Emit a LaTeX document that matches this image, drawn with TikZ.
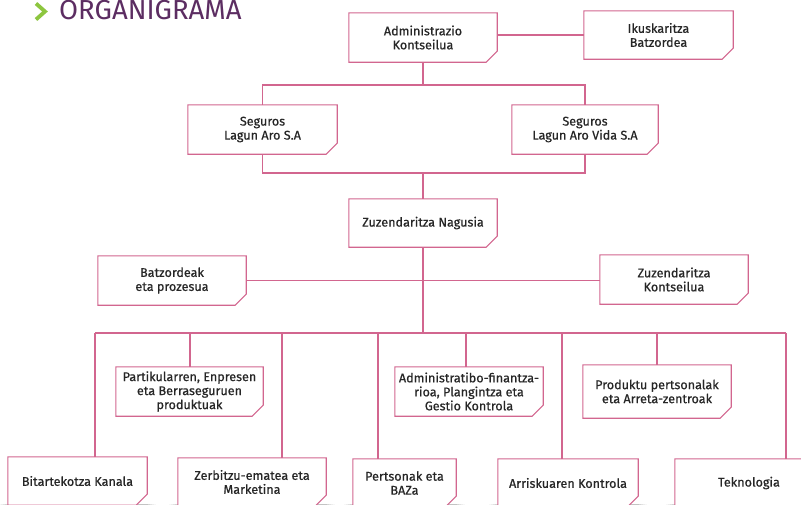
\documentclass[tikz,border=0pt]{standalone}
\usepackage{fontspec}
\setmainfont{Fira Sans}
\usetikzlibrary{backgrounds}
\definecolor{pinkline}{HTML}{D2668F}
\definecolor{txt}{HTML}{262626}
\definecolor{titlepurple}{HTML}{5C2D62}
\definecolor{chev}{HTML}{8DC63F}
\tikzset{
  orgbox/.style={inner sep=0pt, align=center, text=txt, font=\fontsize{12.6}{14}\selectfont\addfontfeature{FakeBold=0.6}},
  conn/.style={draw=pinkline, line width=1.1pt},
}
% box: name, x1, y1, x2, y2, text
\newcommand\orgnode[6]{%
  \node[orgbox, minimum width={(#4-#2)*1pt}, minimum height={(#5-#3)*1pt}] (#1) at ({(#2+#4)/2},{(#3+#5)/2}) {#6};
}
\newcommand\orgframe[1]{%
  \begin{pgfonlayer}{background}
    \foreach \e/\o in {9/0.03,7/0.04,5/0.05,3/0.06,1/0.08}{
      \fill[black,opacity=\o] ([xshift={-\e pt},yshift={\e pt-6pt}]#1.north west) rectangle ([xshift={\e pt},yshift={-\e pt-6pt}]#1.south east);
    }
    \fill[white] (#1.north west) -- (#1.north east) -- ([yshift=11pt]#1.south east) -- ([xshift=-11pt]#1.south east) -- (#1.south west) -- cycle;
  \end{pgfonlayer}
  \draw[pinkline, line width=1.1pt, line join=miter] (#1.north west) -- (#1.north east) -- ([yshift=11pt]#1.south east) -- ([xshift=-11pt]#1.south east) -- (#1.south west) -- cycle;
}
\begin{document}
\begin{tikzpicture}[x=1pt,y=-1pt]
\clip (0,0) rectangle (801,504);
\fill[white] (0,0) rectangle (801,504);
% title
\draw[chev, line width=3.8pt, line cap=butt, line join=miter] (36,3.5) -- (45,11.5) -- (36,19.5);
\node[anchor=base west, inner sep=0pt, text=titlepurple, font=\fontsize{27.5}{27.5}\selectfont] (title) at (59,19) {ORGANIGRAMA};

\orgnode{adm}{349}{13}{497}{62}{Administrazio\\Kontseilua}
\orgnode{iku}{584}{11}{733}{59}{Ikuskaritza\\Batzordea}
\orgnode{sla}{188}{105}{337}{154}{Seguros\\Lagun Aro S.A}
\orgnode{slv}{512}{105}{658}{154}{Seguros\\Lagun Aro Vida S.A}
\orgnode{zn}{349}{199}{497}{247}{Zuzendaritza Nagusia}
\orgnode{bat}{98}{256}{246}{305}{Batzordeak\\eta prozesua}
\orgnode{zk}{600}{255}{748}{304}{Zuzendaritza\\Kontseilua}
\orgnode{par}{116}{367}{263}{416}{Partikularren, Enpresen\\eta Berraseguruen\\produktuak}
\orgnode{adf}{395}{367}{543}{416}{Administratibo-finantza-\\rioa, Plangintza eta\\Gestio Kontrola}
\orgnode{pro}{583}{365}{731}{418}{Produktu pertsonalak\\eta Arreta-zentroak}
\orgnode{bit}{8}{457}{147}{505}{Bitartekotza Kanala}
\orgnode{zer}{178}{458}{326}{506}{Zerbitzu-ematea eta\\Marketina}
\orgnode{per}{353}{459}{456}{507}{Pertsonak eta\\BAZa}
\orgnode{arr}{498}{459}{638}{507}{Arriskuaren Kontrola}
\orgnode{tek}{675}{459}{823}{507}{Teknologia}

\foreach \n in {adm,iku,sla,slv,zn,bat,zk,par,adf,pro,bit,zer,per,arr,tek}{\orgframe{\n}}

% connectors
\coordinate (j1) at (423,85);
\coordinate (j2) at (423,173);
\coordinate (j3) at (423,333);
\draw[conn] (adm.east |- iku.west) -- (iku.west);
\draw[conn] (adm.south) -- (j1);
\draw[conn] (sla.north) |- (j1) -| (slv.north);
\draw[conn] (sla.south) |- (j2) -| (slv.south);
\draw[conn] (j2) -- (zn.north);
\draw[conn] (zn.south) -- (j3);
\draw[conn] (bat.east) -- (bat.east -| zk.west);
\coordinate (d1) at (95,333);
\coordinate (d2) at (190,333);
\coordinate (d3) at (282,333);
\coordinate (d4) at (378,333);
\coordinate (d5) at (466,333);
\coordinate (d6) at (562,333);
\coordinate (d7) at (657,333);
\coordinate (d8) at (786,333);
\draw[conn] (d1) -- (d8);
\draw[conn] (d1) -- (d1 |- bit.north);
\draw[conn] (d2) -- (d2 |- par.north);
\draw[conn] (d3) -- (d3 |- zer.north);
\draw[conn] (d4) -- (d4 |- per.north);
\draw[conn] (d5) -- (d5 |- adf.north);
\draw[conn] (d6) -- (d6 |- arr.north);
\draw[conn] (d7) -- (d7 |- pro.north);
\draw[conn] (d8) -- (d8 |- tek.north);
\end{tikzpicture}
\end{document}
